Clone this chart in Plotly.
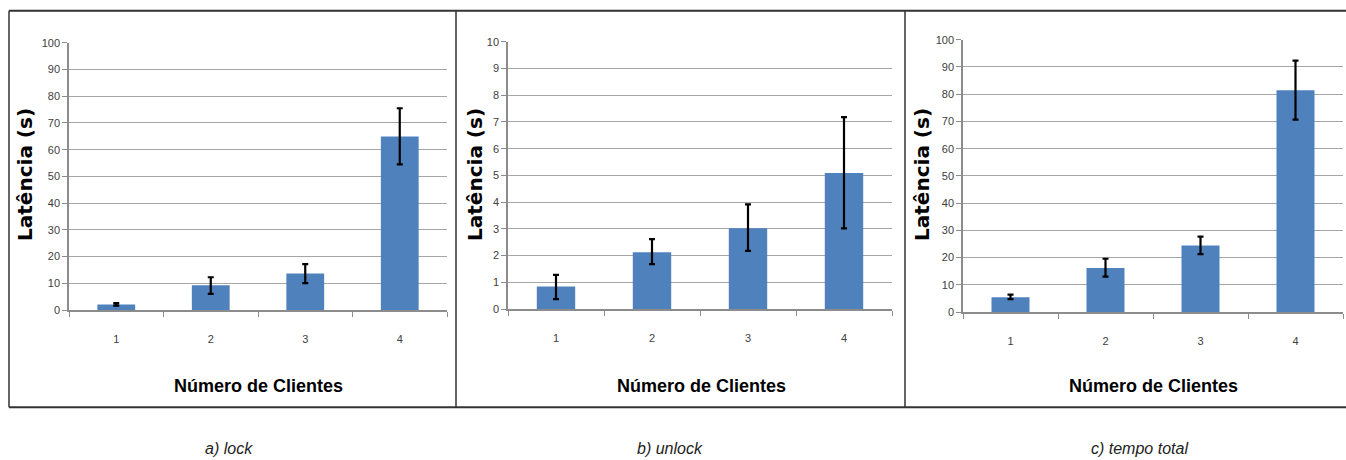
import plotly.graph_objects as go

W, H = 1346, 460

clients = ["1", "2", "3", "4"]

lock_mean = [2.1, 9.3, 13.7, 64.9]
lock_err_plus = [0.5, 3.0, 3.5, 10.6]
lock_err_minus = [0.4, 3.2, 3.6, 10.4]

unlock_mean = [0.85, 2.13, 3.02, 5.09]
unlock_err_plus = [0.43, 0.49, 0.90, 2.09]
unlock_err_minus = [0.48, 0.45, 0.84, 2.07]

total_mean = [5.5, 16.2, 24.5, 81.5]
total_err_plus = [0.9, 3.4, 3.2, 10.8]
total_err_minus = [0.7, 3.2, 3.2, 10.8]

y_ticks_100 = [0, 10, 20, 30, 40, 50, 60, 70, 80, 90, 100]
y_ticks_10 = [0, 1, 2, 3, 4, 5, 6, 7, 8, 9, 10]

captions = ["a) lock", "b) unlock", "c) tempo total"]
x_title = "Número de Clientes"
y_title = "Latência (s)"

BAR = "#4F81BD"
GRID = "#a6a6a6"
AX = "#8c8c8c"
TXT = "#404040"
NARROW = "Liberation Sans Narrow, Liberation Sans, Arial"


def py(r):
    """paper fraction for a target vertical pixel position in the photo"""
    return 1 - ((r - 5.3) / 0.9726) / H


# panel plot areas in pixels: (x0, x1, y_top, y_bottom)
panels = [(69, 447, 42, 309), (508, 892, 41, 308), (963, 1343, 39, 311)]
series = [
    (lock_mean, lock_err_plus, lock_err_minus, 100, y_ticks_100),
    (unlock_mean, unlock_err_plus, unlock_err_minus, 10, y_ticks_10),
    (total_mean, total_err_plus, total_err_minus, 100, y_ticks_100),
]

fig = go.Figure()
layout = {}
for i, ((x0, x1, yt, yb), (m, ep, em, ymax, yt_vals)) in enumerate(zip(panels, series)):
    n = "" if i == 0 else str(i + 1)
    fig.add_trace(go.Bar(
        x=clients, y=m, xaxis="x" + n, yaxis="y" + n,
        marker=dict(color=BAR, line=dict(width=0)),
        error_y=dict(type="data", symmetric=False, array=ep, arrayminus=em,
                     color="black", thickness=2.2, width=3),
        showlegend=False,
    ))
    layout["xaxis" + n] = dict(
        domain=[x0 / W, x1 / W], anchor="y" + n, type="category",
        range=[-0.5, 3.5], tickson="boundaries", ticks="outside", ticklen=5,
        tickcolor=AX, showline=True, linecolor=AX, linewidth=1.5,
        showgrid=False, tickfont=dict(family=NARROW, size=11, color=TXT),
        ticklabelstandoff=18, zeroline=False,
    )
    layout["yaxis" + n] = dict(
        domain=[py(yb), py(yt)], anchor="x" + n,
        range=[0, ymax], tickvals=yt_vals, ticks="outside", ticklen=5,
        tickcolor=AX, showline=True, linecolor=AX, linewidth=1.5,
        showgrid=True, gridcolor=GRID, gridwidth=1.3, zeroline=False,
        tickfont=dict(family=NARROW, size=11, color=TXT),
    )

annotations = []
xt_centers = [258, 701, 1153]
yt_centers = [25, 475, 922]
cap_centers = [229, 670, 1139]
for i in range(3):
    annotations.append(dict(
        x=xt_centers[i] / W, y=py(385), xref="paper", yref="paper",
        text="<b>" + x_title + "</b>", showarrow=False,
        font=dict(family=NARROW, size=18, color="black"),
        xanchor="center", yanchor="middle"))
    annotations.append(dict(
        x=yt_centers[i] / W, y=py(174), xref="paper", yref="paper",
        text="<b>" + y_title + "</b>", showarrow=False, textangle=-90,
        font=dict(family="DejaVu Sans", size=20, color="black"),
        xanchor="center", yanchor="middle"))
    annotations.append(dict(
        x=cap_centers[i] / W, y=py(447), xref="paper", yref="paper",
        text="<i>" + captions[i] + "</i>", showarrow=False,
        font=dict(family=NARROW, size=16, color="#222222"),
        xanchor="center", yanchor="middle"))

shapes = []
BOX = "#333333"
for yy in (10, 406):
    shapes.append(dict(type="line", xref="paper", yref="paper",
                       x0=9 / W, x1=1.0, y0=py(yy), y1=py(yy),
                       line=dict(color=BOX, width=2)))
for xx in (9, 456, 905):
    shapes.append(dict(type="line", xref="paper", yref="paper",
                       x0=xx / W, x1=xx / W, y0=py(10), y1=py(406),
                       line=dict(color=BOX, width=1.5)))

fig.update_layout(
    width=W, height=H, margin=dict(l=0, r=0, t=0, b=0),
    paper_bgcolor="white", plot_bgcolor="white",
    bargap=0.6, annotations=annotations, shapes=shapes, **layout,
)

fig.write_html(
    "out.html",
    config={"responsive": False, "displayModeBar": False},
    post_script=(
        "var d=document.getElementById('{plot_id}');"
        "d.style.position='absolute';d.style.left='0px';d.style.top='0px';"
        "var s=[document.documentElement,document.body];"
        "for(var i=0;i<2;i++){s[i].style.margin='0';s[i].style.padding='0';"
        "s[i].style.overflow='hidden';s[i].style.height='460px';}"
    ),
)
